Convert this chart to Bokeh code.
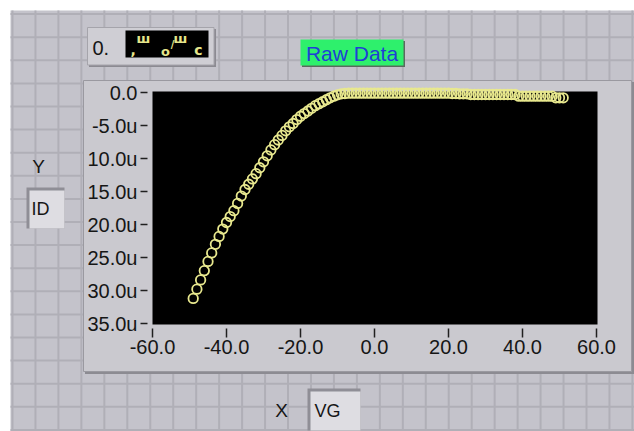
from bokeh.plotting import figure
from bokeh.models import BoxAnnotation, Label, FixedTicker, Range1d
from bokeh.embed import file_html
from bokeh.resources import INLINE

# ---------------- data ----------------
vg = list(range(-49, 52))
id_ua = [
    -31.2, -29.8, -28.4, -27.0, -25.6, -24.3, -23.0, -21.8, -20.7, -19.7,
    -18.8, -17.9, -16.8, -15.7, -14.7, -13.9, -13.1, -12.3, -11.4, -10.5,
    -9.6, -8.7, -7.9, -7.2, -6.5, -5.8, -5.2, -4.7, -4.1, -3.6,
    -3.2, -2.8, -2.4, -2.0, -1.7, -1.4, -1.1, -0.8, -0.55, -0.35,
    -0.2, -0.15, -0.1,
    -0.1, -0.1, -0.1, -0.1, -0.1, -0.1, -0.1, -0.1, -0.1, -0.1,
    -0.1, -0.1, -0.1, -0.1, -0.1, -0.1, -0.1, -0.1, -0.1, -0.1,
    -0.1, -0.1, -0.1, -0.1, -0.1, -0.1, -0.1, -0.15, -0.15,
    -0.2, -0.2, -0.2,
    -0.3, -0.3, -0.3, -0.3, -0.3, -0.3, -0.3, -0.3, -0.3, -0.3, -0.3, -0.3, -0.3,
    -0.55, -0.55, -0.55, -0.55, -0.55, -0.55, -0.55, -0.55, -0.55, -0.55,
    -0.8, -0.8, -0.8,
]
x_ticks = [-60, -40, -20, 0, 20, 40, 60]
x_tick_labels = ["-60.0", "-40.0", "-20.0", "0.0", "20.0", "40.0", "60.0"]
y_ticks = [0, -5, -10, -15, -20, -25, -30, -35]
y_tick_labels = ["0.0", "-5.0u", "10.0u", "15.0u", "20.0u", "25.0u", "30.0u", "35.0u"]

# ---------------- layout ----------------
W, H = 634, 431
kx = 120 / 444.0      # data units per pixel (x)
ky = 35 / 231.0       # data units per pixel (y)
PX0, PY0 = 152, 92    # pixel of x=-60 and y=0
x0 = -60 - PX0 * kx
x1 = -60 + (W - PX0) * kx
y1 = PY0 * ky
y0 = -(H - PY0) * ky


def DX(px):
    return -60 + (px - PX0) * kx


def DY(py):
    return -(py - PY0) * ky


p = figure(width=W, height=H,
           min_border_left=0, min_border_right=0,
           min_border_top=0, min_border_bottom=0,
           x_range=Range1d(x0, x1), y_range=Range1d(y0, y1),
           output_backend="svg", toolbar_location=None,
           border_fill_color="white", background_fill_color="white",
           outline_line_color=None)
p.grid.visible = False

FONT = "Liberation Sans"
TXT = "#161616"


def box(l, t, r, b, fill, line=None, lw=1.0):
    p.add_layout(BoxAnnotation(left=DX(l), right=DX(r), top=DY(t), bottom=DY(b),
                               fill_color=fill, fill_alpha=1.0,
                               line_color=line, line_alpha=1.0, line_width=lw,
                               level="underlay"))


def label(px, py, text, size, color=TXT, align="left", baseline="middle",
          font=FONT, style="normal"):
    p.add_layout(Label(x=DX(px), y=DY(py), text=text, text_font_size=f"{size}px",
                       text_color=color, text_align=align, text_baseline=baseline,
                       text_font=font, text_font_style=style))


# panel background with grid
box(10, 10, 640, 440, "#c4c3cb")
k = 0
while 12 + 22.96 * k < 640:
    gx = 12 + 22.96 * k
    box(gx - 1, 10, gx + 1, 440, "#b0afb7")
    k += 1
k = 0
while 13.6 + 23.1 * k < 440:
    gy = 13.6 + 23.1 * k
    box(10, gy - 1, 640, gy + 1, "#b0afb7")
    k += 1

# raised graph frame
box(84.5, 81.5, 633.5, 373.5, "#8c8b92")
box(83, 80, 631, 371, "#cac9cf", "#9a99a0", 1)
# plot black area
box(152, 91, 597, 324, "black")

# "0." control
box(88.5, 28.5, 215.5, 66.5, "#8c8b92")
box(87, 27, 213.5, 64.5, "#cfced4", "#a5a4ab", 1)
box(125, 30, 208, 57, "black")
label(92, 47, "0.", 20)
YEL = "#e6e68c"
label(130, 49, ",", 14, YEL, "left", "middle", "DejaVu Sans", "bold")
label(143, 38, "ш", 13, YEL, "center", "middle", "DejaVu Sans", "bold")
label(165, 51, "o", 13, YEL, "center", "middle", "DejaVu Sans", "bold")
label(172, 44, "/", 10, YEL, "center", "middle", "DejaVu Sans", "bold")
label(180, 38, "ш", 13, YEL, "center", "middle", "DejaVu Sans", "bold")
label(198, 49, "c", 14, YEL, "center", "middle", "DejaVu Sans", "bold")

# "Raw Data" indicator
box(301.5, 40.5, 404.5, 66.5, "#5a6a5e")
box(300, 39, 403, 65, "#2ef06c")
label(351.5, 52.5, "Raw Data", 21, "#1f3fd6", "center")

# Y / ID
label(38, 166, "Y", 19, TXT, "center")
box(26, 187, 64, 228, "#8f8e96")
box(29, 190, 64, 228, "#dedde2")
label(31, 208, "ID", 18)

# X / VG
label(281, 410, "X", 19, TXT, "center")
box(307, 388, 360, 430, "#8f8e96")
box(310, 391, 360, 430, "#dedde2")
label(314, 410, "VG", 18)

# data
p.scatter(vg, id_ua, marker="circle", size=9.5, fill_color=None,
          line_color="#e8e88e", line_width=1.8)

# axes, fixed at the edges of the graph area
p.xaxis.fixed_location = DY(328)
p.yaxis.fixed_location = DX(147)
p.xaxis.ticker = FixedTicker(ticks=x_ticks)
p.xaxis.major_label_overrides = dict(zip(x_ticks, x_tick_labels))
p.yaxis.ticker = FixedTicker(ticks=y_ticks)
p.yaxis.major_label_overrides = dict(zip(y_ticks, y_tick_labels))
p.axis.axis_line_color = None
p.axis.minor_tick_line_color = None
p.axis.major_tick_in = 0
p.xaxis.major_tick_out = 9
p.yaxis.major_tick_out = 7
p.axis.major_tick_line_color = "#202020"
p.axis.major_tick_line_width = 1.5
p.axis.major_label_text_font = FONT
p.axis.major_label_text_font_size = "20px"
p.axis.major_label_text_color = TXT
p.xaxis.major_label_standoff = 2
p.yaxis.major_label_standoff = 3

open("out.html", "w").write(file_html(p, INLINE))
